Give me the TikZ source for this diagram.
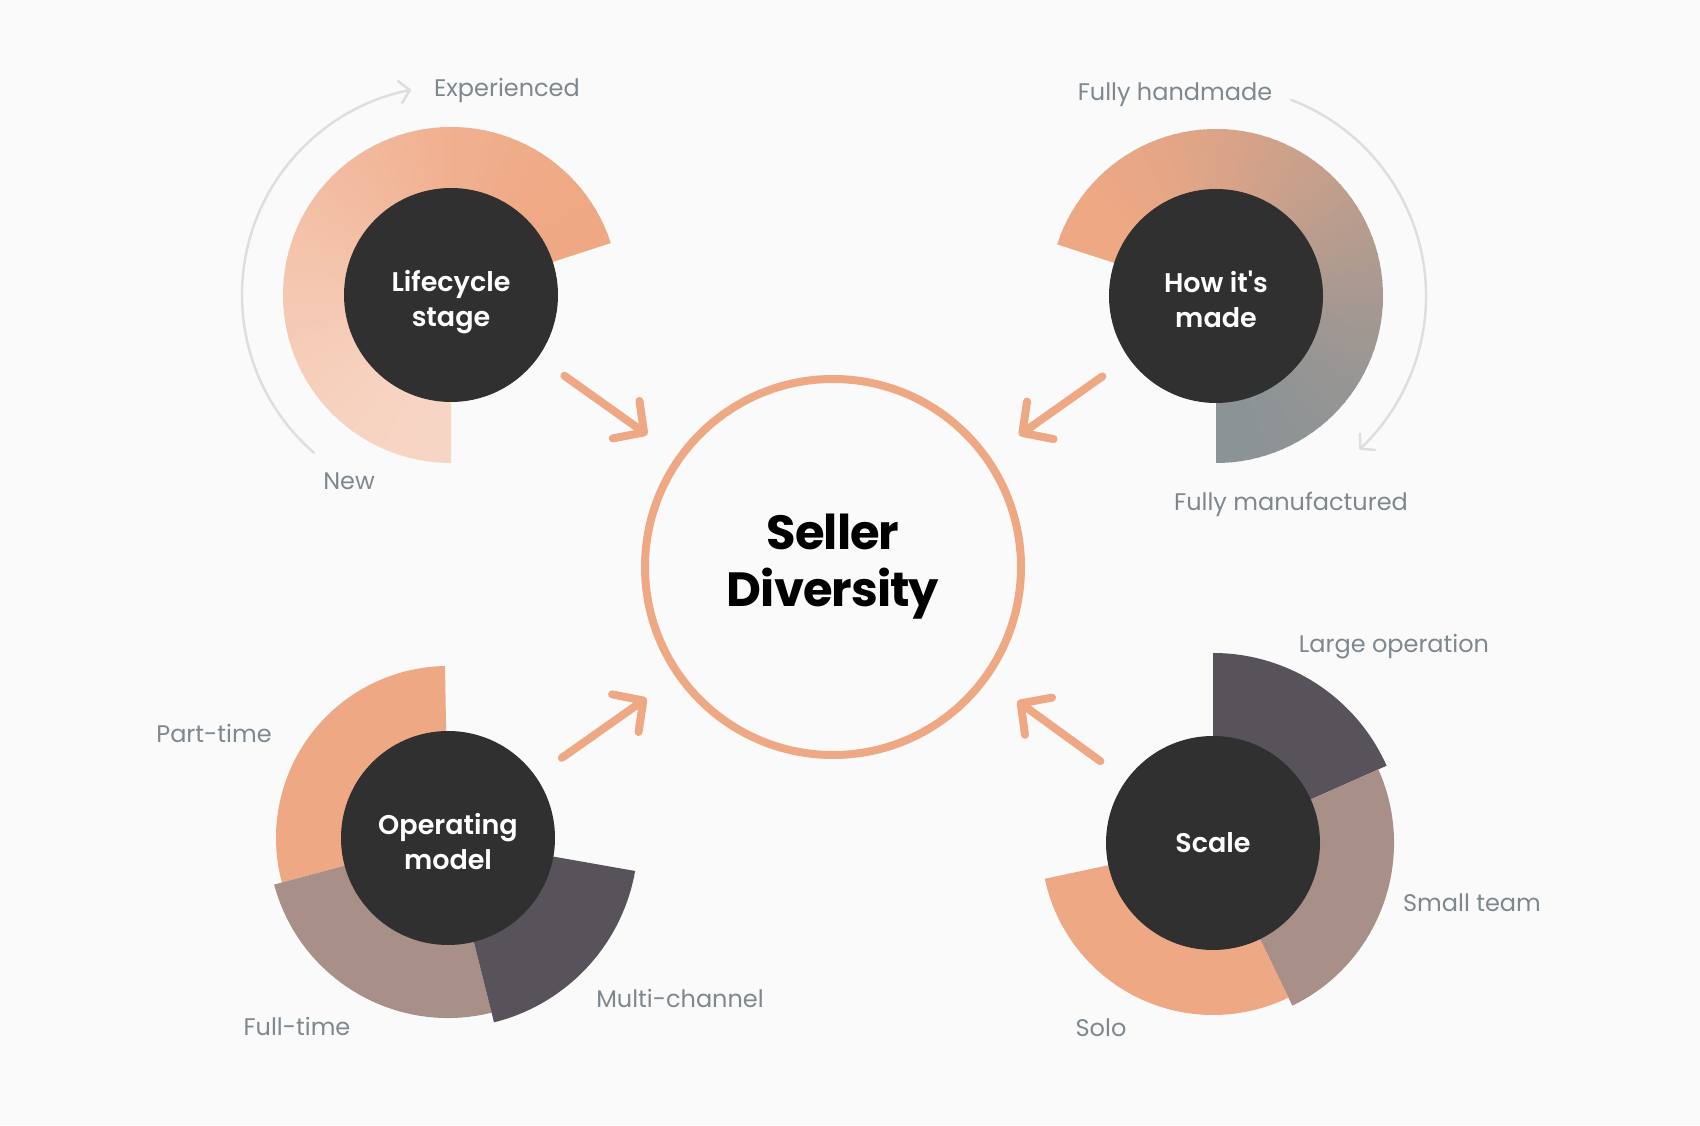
\documentclass[tikz,border=0pt]{standalone}
\usepackage{fontspec}
\setmainfont{Poppins}
\IfFontExistsTF{Poppins SemiBold}{\newfontfamily\hubfont{Poppins SemiBold}}{\newcommand\hubfont{\bfseries}}
\usetikzlibrary{arrows.meta,calc,shadings}
\definecolor{bg}{HTML}{FAFAFA}
\definecolor{darkc}{HTML}{303030}
\definecolor{peach}{HTML}{EFA884}
\definecolor{lpeach}{HTML}{F7D5C4}
\definecolor{taupe}{HTML}{A88F88}
\definecolor{mauve}{HTML}{58525A}
\definecolor{lbl}{HTML}{7D888F}
\definecolor{arcgrey}{HTML}{DCDFE1}
\definecolor{mgrey}{HTML}{8B9396}
\newcommand\twoline[2]{\raisebox{-7pt}[\height][\depth]{\begin{tabular}{@{}c@{}}#1\\#2\end{tabular}}}
\begin{document}
\begin{tikzpicture}[x=1pt,y=1pt,
  hub/.style={circle,fill=darkc,minimum size=214pt,inner sep=0pt,text=white,align=center,
    font=\fontsize{27}{35}\selectfont\hubfont},
  core/.style={circle,draw=peach,line width=8pt,fill=bg,minimum size=376pt,inner sep=0pt,
    outer sep=4pt,align=center,font=\fontsize{48}{57}\selectfont\bfseries\addfontfeature{LetterSpace=-2}},
  lab/.style={anchor=base,inner sep=0pt,text=lbl,font=\fontsize{24}{28}\selectfont},
  bigarrow/.style={draw=peach,line width=8pt,line cap=round,
    -{Straight Barb[length=22pt,width=46pt,round]}},
  thinarc/.style={draw=arcgrey,line width=2.5pt,line cap=round,
    -{Straight Barb[length=10pt,width=22pt,round]}}]
\useasboundingbox (0,0) rectangle (1700,1125);
\fill[bg] (0,0) rectangle (1700,1125);

\coordinate (lc) at (451,830);
\coordinate (mc) at (1216,829);
\coordinate (oc) at (448,287);
\coordinate (sc) at (1213,282);

% lifecycle ring: conic gradient peach (18 deg) -> light peach (270 deg)
\foreach \i in {0,...,83}{
  \pgfmathsetmacro\a{18+3*\i}
  \pgfmathsetmacro\b{min(\a+3.8,270)}
  \pgfmathsetmacro\t{\i/83}
  \pgfmathsetmacro\p{100*(3*\t*\t-2*\t*\t*\t)}
  \fill[lpeach!\p!peach] (lc) -- ++(\a:168) arc[start angle=\a,end angle=\b,radius=168] -- cycle;
}
% how it's made ring: conic gradient peach (162 deg) -> grey (-90 deg)
\foreach \i in {0,...,83}{
  \pgfmathsetmacro\a{162-3*\i}
  \pgfmathsetmacro\b{max(\a-3.8,-90)}
  \pgfmathsetmacro\t{\i/83}
  \pgfmathsetmacro\p{100*(3*\t*\t-2*\t*\t*\t)}
  \fill[mgrey!\p!peach] (mc) -- ++(\a:167) arc[start angle=\a,end angle=\b,radius=167] -- cycle;
}
% operating model ring
\fill[peach] (oc) -- ++(91:172) arc[start angle=91,end angle=195,radius=172] -- cycle;
\fill[taupe] (oc) -- ++(195:180) arc[start angle=195,end angle=284,radius=180] -- cycle;
\fill[mauve] (oc) -- ++(284:190) arc[start angle=284,end angle=350,radius=190] -- cycle;
% scale ring
\fill[mauve] (sc) -- ++(24:190) arc[start angle=24,end angle=90,radius=190] -- cycle;
\fill[taupe] (sc) -- ++(-64:181) arc[start angle=-64,end angle=24,radius=181] -- cycle;
\fill[peach] (sc) -- ++(192:172) arc[start angle=192,end angle=296,radius=172] -- cycle;

% grey arcs
\draw[thinarc] ($(lc)+(229:209)$) arc[start angle=229,end angle=101,radius=209];
\draw[thinarc] ($(mc)+(69:210)$) arc[start angle=69,end angle=-47,radius=210];

% hubs
\node[hub] (life) at (lc) {\twoline{Lifecycle}{stage}};
\node[hub] (made) at (mc) {\twoline{How it{\char39}s}{made}};
\node[hub] (oper) at (oc) {\twoline{Operating}{model}};
\node[hub] (scale) at (sc) {Scale};
\node[core] (center) at (833,558) {Seller\\Diversity};

% arrows
\foreach \s in {life,made,oper,scale}
  \draw[bigarrow,shorten <=32pt,shorten >=36pt] (\s) -- (center);

% labels
\node[lab] (l1) at (507,1028) {Experienced};
\node[lab] (l2) at (349,635) {New};
\node[lab] (l3) at (1175,1024) {Fully handmade};
\node[lab] (l4) at (1291,614) {Fully manufactured};
\node[lab] (l5) at (214,382) {Part-time};
\node[lab] (l6) at (297,90) {Full-time};
\node[lab] (l7) at (680,118) {Multi-channel};
\node[lab] (l8) at (1394,472) {Large operation};
\node[lab] (l9) at (1472,213) {Small team};
\node[lab] (l10) at (1101,89) {Solo};
\end{tikzpicture}
\end{document}
